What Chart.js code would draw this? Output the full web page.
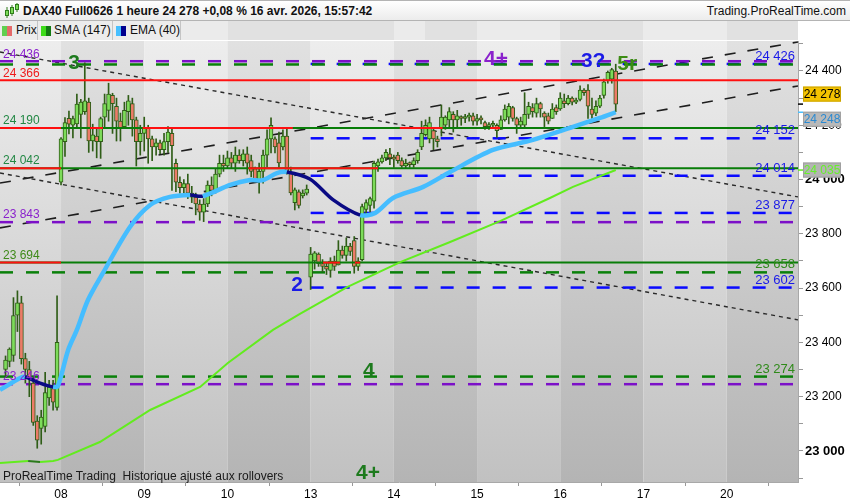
<!DOCTYPE html>
<html>
<head>
<meta charset="utf-8">
<script src="https://cdn.jsdelivr.net/npm/chart.js@4.4.1/dist/chart.umd.min.js"></script>
<style>
  body { margin:0; width:850px; height:500px; overflow:hidden; background:#fff; font-family:"Liberation Sans", Arial, sans-serif; position:relative; }
  #head { position:absolute; left:0; top:0; width:850px; height:21px; box-sizing:border-box; border-top:1px solid #b4b4b4; border-bottom:1px solid #b4b4b4; background:linear-gradient(#ffffff,#ececec); }
  #title { position:absolute; left:23px; top:3px; font-size:12px; font-weight:bold; color:#111; white-space:nowrap; }
  #site { position:absolute; right:4px; top:3px; font-size:12px; color:#111; }
  #tabs { position:absolute; left:0; top:21px; width:850px; height:19px;
    background:linear-gradient(90deg,#ebebeb 0 228px,#e1e1e1 228px 394px,#ebebeb 394px 425px,#e1e1e1 425px 477px,#ebebeb 477px 560px,#e1e1e1 560px 643px,#ebebeb 643px 727px,#e1e1e1 727px 798px,#fff 798px); }
  .tab { position:absolute; top:0; height:19px; box-sizing:border-box; border-right:1px solid #c4c4c4; background:#ececec; font-size:12px; line-height:19px; color:#111; }
  .ico { position:absolute; top:5px; width:10px; height:10px; }
  #chartbox { position:absolute; left:0; top:40px; width:850px; height:460px; }
  #note { position:absolute; left:3px; top:469px; font-size:12px; color:#1a1a1a; white-space:pre; }
</style>
</head>
<body>
<div id="head">
  <svg style="position:absolute;left:4px;top:2px" width="15" height="16">
    <line x1="3" y1="4" x2="3" y2="15" stroke="#2f7d1a"/><rect x="1.5" y="7.5" width="3" height="5" fill="#7ddc5a" stroke="#2f7d1a"/>
    <line x1="8" y1="2" x2="8" y2="13" stroke="#2f7d1a"/><rect x="6.5" y="4.5" width="3" height="6" fill="#7ddc5a" stroke="#2f7d1a"/>
    <line x1="13" y1="0" x2="13" y2="9" stroke="#2f7d1a"/><rect x="11.5" y="1.5" width="3" height="5" fill="#7ddc5a" stroke="#2f7d1a"/>
  </svg>
  <div id="title">DAX40 Full0626 1 heure 24 278 +0,08 % 16 avr. 2026, 15:57:42</div>
  <div id="site">Trading.ProRealTime.com</div>
</div>
<div id="tabs">
  <div class="tab" style="left:0;width:38px"><span class="ico" style="left:2px;background:linear-gradient(90deg,#5fcf4f 50%,#e56a6a 50%)"></span><span style="position:absolute;left:16px">Prix</span></div>
  <div class="tab" style="left:38px;width:75px"><span class="ico" style="left:3px;background:linear-gradient(90deg,#3ddc1a 50%,#137a13 50%)"></span><span style="position:absolute;left:16px">SMA (147)</span></div>
  <div class="tab" style="left:113px;width:68px"><span class="ico" style="left:3px;background:linear-gradient(90deg,#46bfff 50%,#00008f 50%)"></span><span style="position:absolute;left:17px">EMA (40)</span></div>
</div>
<div id="chartbox"><canvas id="graficoDax" width="850" height="460"></canvas></div>
<div id="note">ProRealTime Trading  Historique ajusté aux rollovers</div>

<script>
const dayLabels = ['08','09','10','13','14','15','16','17','20'];
const barsPerDay = 21;

const bars07 = [
  [23300,23350,23270,23335],[23330,23380,23310,23375],[23352,23565,23330,23499],[23500,23590,23440,23546],
  [23546,23570,23320,23340],[23340,23360,23250,23300],[23300,23330,23200,23270],[23250,23270,23094,23105],
  [23110,23130,23010,23040],[23083,23150,23025,23125],[23090,23290,23070,23215],[23195,23260,23168,23235],
  [23230,23260,23150,23180],[23160,23572,23150,23400]
];
const bars08 = [
  [23990,24155,23980,24150],[24140,24228,24085,24210],[24226,24252,24168,24204],[24200,24234,24153,24225],
  [24205,24315,24190,24278],[24240,24296,24153,24285],[24250,24430,24240,24290],[24285,24300,24100,24142],
  [24142,24204,24105,24165],[24160,24190,24080,24140],[24140,24230,24078,24225],[24230,24315,24190,24280],
  [24255,24355,24215,24315],[24310,24318,24170,24280],[24270,24300,24142,24215],[24215,24245,24142,24190],
  [24195,24285,24190,24255],[24250,24310,24200,24290],[24280,24300,24160,24220],[24220,24230,24050,24140],
  [24140,24200,24090,24170]
];
const bars09 = [
  [24170,24230,24105,24190],[24190,24200,24060,24150],[24150,24160,24070,24120],[24120,24150,24090,24135],
  [24135,24145,24095,24110],[24110,24170,24090,24140],[24140,24195,24100,24175],[24170,24190,23960,24125],
  [24060,24075,23955,23990],[23990,24010,23950,23970],[23970,24000,23945,23985],[23985,24020,23930,23950],
  [23950,23975,23915,23935],[23935,23950,23870,23910],[23910,23925,23850,23880],[23880,23930,23845,23910],
  [23910,23995,23900,23980],[23980,24010,23940,23960],[23960,24040,23950,24020],[24020,24090,24010,24060],
  [24060,24090,24030,24050]
];
const bars10 = [
  [24050,24105,24040,24080],[24080,24100,24040,24060],[24060,24120,24030,24090],[24090,24110,24060,24070],
  [24070,24110,24050,24095],[24095,24120,24020,24060],[24070,24090,24010,24030],[24040,24046,23991,24000],
  [24000,24061,23950,24030],[24030,24109,23987,24090],[24090,24183,24046,24150],[24150,24227,24098,24200],
  [24150,24157,24098,24120],[24135,24175,24043,24061],[24120,24183,24109,24160],[24160,24190,24020,24030],
  [24024,24046,23943,23951],[23915,23969,23888,23962],[23955,23962,23895,23905],[23940,23962,23932,23950],
  [23950,23980,23943,23965]
];
const bars13 = [
  [23640,23750,23595,23725],[23700,23735,23670,23730],[23725,23730,23680,23690],[23690,23705,23660,23680],
  [23680,23695,23650,23670],[23665,23712,23640,23700],[23700,23718,23665,23680],[23685,23775,23685,23740],
  [23740,23755,23710,23720],[23720,23785,23700,23755],[23755,23765,23720,23735],[23775,23790,23655,23680],
  [23680,23712,23665,23700],[23705,23910,23700,23900],[23890,23925,23870,23915],[23905,23935,23880,23930],
  [23920,24068,23895,24060],[24050,24075,24030,24065],[24065,24090,24060,24080],[24080,24110,24070,24100],
  [24095,24115,24055,24080]
];
const bars14 = [
  [24080,24090,24045,24075],[24090,24100,24060,24070],[24070,24080,24045,24050],[24050,24075,24040,24060],
  [24060,24065,24045,24055],[24055,24080,24045,24070],[24070,24110,24060,24100],[24120,24215,24110,24170],
  [24165,24220,24160,24200],[24150,24230,24135,24210],[24180,24185,24110,24150],[24150,24160,24120,24140],
  [24190,24275,24160,24230],[24200,24235,24185,24230],[24220,24265,24190,24250],[24240,24250,24175,24220],
  [24220,24255,24190,24235],[24230,24235,24200,24225],[24225,24240,24210,24230],[24230,24245,24215,24235],
  [24235,24245,24200,24215]
];
const bars15 = [
  [24215,24240,24200,24225],[24225,24235,24205,24220],[24210,24215,24185,24195],[24195,24210,24185,24200],
  [24200,24215,24190,24205],[24200,24205,24155,24180],[24185,24235,24185,24220],[24220,24275,24215,24260],
  [24230,24280,24205,24270],[24265,24270,24215,24225],[24225,24230,24170,24200],[24200,24230,24190,24215],
  [24200,24320,24190,24240],[24240,24285,24225,24270],[24265,24280,24230,24250],[24245,24300,24230,24280],
  [24280,24285,24230,24260],[24245,24250,24195,24230],[24235,24245,24205,24215],[24225,24280,24225,24260],
  [24265,24275,24240,24250]
];
const bars16 = [
  [24260,24320,24255,24300],[24290,24315,24265,24280],[24280,24310,24275,24300],[24300,24305,24275,24285],
  [24285,24300,24280,24290],[24295,24345,24290,24330],[24330,24335,24310,24320],[24330,24350,24225,24270],
  [24260,24300,24225,24240],[24245,24290,24235,24270],[24270,24310,24265,24300],[24310,24370,24300,24360],
  [24365,24400,24355,24395],[24370,24410,24355,24405],[24400,24425,24250,24278]
];

// moyennes mobiles (points relevés)
const smaX = [-15.4,-8.3,-5.3,-2.0,-0.8,9.8,22.5,35.1,42.1,53.5,60.3,72.2,85.6,98.2,110.8,123.4,129.2,140];
const smaY = [22956,22963,22959,22963,22967,23033,23151,23236,23324,23446,23505,23604,23696,23770,23847,23932,23973,24035];
const emaX = [-15.4,-10.3,-9.1,-5.3,-2.0,-0.8,1.8,4.0,6.8,10.6,17.4,22.5,27.5,32.6,35.8,42.7,47.7,51.0,54.5,57.0,62.8,68.7,75.5,79.3,83.8,91.4,98.2,109.0,119.1,129.2,136.0,140];
const emaY = [23225,23269,23273,23250,23236,23239,23372,23446,23556,23656,23825,23906,23936,23943,23939,23980,23998,23998,24024,24028,24002,23925,23869,23877,23932,23973,24028,24109,24146,24194,24227,24248];

// niveaux horizontaux
const purpleLevels = [24436, 23843, 23246];
const greenDashLevels = [24424, 23658, 23274];
const blueDashLevels = [24426, 24152, 24014, 23877, 23602];
const greenSolidLevels = [24190, 24042, 23694];
const redSegments = [[24366,-15.4,186],[24190,-15.4,0],[24190,7.3,10.6],[24190,20.6,58.5],[24190,85.5,96.3],[24190,108.3,110.8],
                     [24042,-15.4,0],[24042,47.3,80],[23694,-15.4,0],[23694,66.1,70.4],[23694,74.2,75.5]];
const blueStart = 63;

// lignes de tendance [x0, y0, x1, y1]
const trendShort = [[-15.4,24470,186,23936],[-15.4,24024,186,23483]];
const trendLong = [[-15.4,23987,186,24507],[-15.4,23822,186,24345]];

const leftLabels = [[24436,'#8a22cc'],[24366,'#ee1c1c'],[24190,'#228844'],[24042,'#228844'],[23843,'#8a22cc'],[23694,'#3f8a1a'],[23246,'#8a22cc']];
const rightLabels = [[24426,'#1a1ae8'],[24152,'#1a1ae8'],[24014,'#1a1ae8'],[23877,'#1a1ae8'],[23658,'#2f8a1a'],[23602,'#1a1ae8'],[23274,'#2f8a1a']];
const marks = [['3',3.3,24429,'#1d7a1d'],['4+',109.8,24444,'#8a22cc'],['3?',134.3,24437,'#1a1ae6'],['5r',142.9,24426,'#3c8c14'],
               ['2',59.6,23611,'#1a1ae6'],['4',77.7,23295,'#1d7a1d'],['4+',77.5,22919,'#1d7a1d']];

const xMin = -15.4, xMax = 186, yMin = 22885.6, yMax = 24510.5;

const candles = [];
bars07.forEach((b, i) => candles.push({x: i - bars07.length, b}));
[bars08, bars09, bars10, bars13, bars14, bars15, bars16].forEach((day, d) =>
  day.forEach((b, i) => candles.push({x: d * barsPerDay + i, b})));

const fmt = v => String(Math.round(v)).replace(/\B(?=(\d{3})+$)/g, ' ');
const wickColor = '#2f5d17';

function lineDs(points, color, width, dash, order) {
  return {type:'line', data: points.map(p => ({x:p[0], y:p[1]})), borderColor: color, borderWidth: width,
          borderDash: dash || [], pointRadius: 0, tension: 0, fill: false, order};
}

const datasets = [];
trendShort.forEach(t => datasets.push(lineDs([[t[0],t[1]],[t[2],t[3]]], '#2a2a2a', 1.4, [4,4], 10)));
trendLong.forEach(t => datasets.push(lineDs([[t[0],t[1]],[t[2],t[3]]], '#1e1e1e', 1.6, [11,12], 10)));
greenDashLevels.forEach(v => datasets.push(lineDs([[xMin,v],[xMax,v]], '#0a800a', 2.5, [13,13], 9)));
purpleLevels.forEach(v => datasets.push(lineDs([[xMin,v],[xMax,v]], '#7c10c8', 2.5, [13,13], 9)));
blueDashLevels.forEach(v => datasets.push(lineDs([[blueStart,v],[xMax,v]], '#0a0aff', 2.5, [13,13], 9)));

datasets.push({type:'bar', data: candles.map(c => ({x:c.x, y:[c.b[2], c.b[1]]})), backgroundColor: wickColor,
  barThickness: 1, grouped: false, order: 7});
datasets.push({type:'bar', data: candles.map(c => ({x:c.x, y:[c.b[0], c.b[3]]})),
  backgroundColor: ctx => { const b = candles[ctx.dataIndex].b; return b[3] >= b[0] ? '#7ddc5a' : '#ec7b68'; },
  borderColor: wickColor, borderWidth: 1, borderSkipped: false, barThickness: 4, minBarLength: 2, grouped: false, order: 6});

greenSolidLevels.forEach(v => datasets.push(lineDs([[xMin,v],[xMax,v]], '#087d08', 2, null, 5)));
redSegments.forEach(s => datasets.push(lineDs([[s[1],s[0]],[s[2],s[0]]], '#ff1010', 2, null, 4)));

datasets.push({type:'line', data: smaX.map((x,i) => ({x, y:smaY[i]})), borderColor:'#62ec1e', borderWidth:2,
  pointRadius:0, tension:0, fill:false, order:2,
  segment:{borderColor: c => c.p1.parsed.y < c.p0.parsed.y ? '#2b7a1b' : '#62ec1e'}});
datasets.push({type:'line', data: emaX.map((x,i) => ({x, y:emaY[i]})), borderColor:'#45bdff', borderWidth:4.5,
  pointRadius:0, tension:0.3, fill:false, order:1,
  segment:{borderColor: c => c.p1.parsed.y < c.p0.parsed.y ? '#0a0a84' : '#45bdff',
           borderWidth: c => c.p1.parsed.y < c.p0.parsed.y ? 3.5 : 4.5}});

const bandsPlugin = {
  id: 'bands',
  beforeDraw(chart) {
    const {ctx, chartArea: a, scales: {x}} = chart;
    ctx.save();
    for (let d = -1; d < dayLabels.length; d++) {
      const l = Math.max(a.left, x.getPixelForValue(d * barsPerDay));
      const r = Math.min(a.right, x.getPixelForValue((d + 1) * barsPerDay));
      if (r <= l) continue;
      const light = d % 2 !== 0;
      const g = ctx.createLinearGradient(0, a.top, 0, a.bottom);
      g.addColorStop(0, light ? '#ededed' : '#e1e1e1');
      g.addColorStop(1, light ? '#c1c1c1' : '#b4b4b4');
      ctx.fillStyle = g;
      ctx.fillRect(l, a.top, r - l, a.bottom - a.top);
    }
    ctx.restore();
  }
};

const textPlugin = {
  id: 'texts',
  afterDatasetsDraw(chart) {
    const {ctx, chartArea: a, scales: {x, y}} = chart;
    ctx.save();
    ctx.beginPath(); ctx.rect(a.left, a.top, a.right - a.left, a.bottom - a.top); ctx.clip();
    ctx.font = '12px "Liberation Sans", Arial, sans-serif';
    ctx.textBaseline = 'bottom';
    ctx.textAlign = 'left';
    leftLabels.forEach(([v, c]) => { ctx.fillStyle = c; ctx.fillText(fmt(v), 3, y.getPixelForValue(v) - 1); });
    ctx.font = '13px "Liberation Sans", Arial, sans-serif';
    ctx.textAlign = 'right';
    rightLabels.forEach(([v, c]) => { ctx.fillStyle = c; ctx.fillText(fmt(v), a.right - 3, y.getPixelForValue(v) - 1); });
    ctx.font = 'bold 21px "Liberation Sans", Arial, sans-serif';
    ctx.textAlign = 'center'; ctx.textBaseline = 'middle';
    marks.forEach(([t, mx, my, c]) => { ctx.fillStyle = c; ctx.fillText(t, x.getPixelForValue(mx), y.getPixelForValue(my)); });
    ctx.restore();
  },
  afterDraw(chart) {
    const {ctx, chartArea: a, scales: {y}} = chart;
    const last = candles[candles.length - 1].b[3];
    const tags = [
      [last, '#f4c300', '#c9a200', '#000', -10, '#000'],
      [emaY[emaY.length - 1], '#b9b9b9', '#a2a2a2', '#2a8ad2', 7, '#4cc0ff'],
      [smaY[smaY.length - 1], '#b4b4b4', '#a0a0a0', '#66f02a', 0, '#62ec1e']
    ];
    ctx.save();
    ctx.font = '12px "Liberation Sans", Arial, sans-serif';
    ctx.textAlign = 'center'; ctx.textBaseline = 'middle';
    tags.forEach(([v, bg, bd, fg, dy, tk]) => {
      const py = y.getPixelForValue(v);
      ctx.strokeStyle = tk; ctx.lineWidth = 1.5;
      ctx.beginPath(); ctx.moveTo(a.right, py); ctx.lineTo(a.right + 5, py); ctx.stroke();
      const cy = py + dy;
      ctx.fillStyle = bg; ctx.fillRect(a.right + 5, cy - 7.5, 38, 15);
      ctx.strokeStyle = bd; ctx.lineWidth = 1; ctx.strokeRect(a.right + 5.5, cy - 7, 37, 14);
      ctx.fillStyle = fg; ctx.fillText(fmt(v), a.right + 24, cy + 0.5);
    });
    ctx.restore();
  }
};

Chart.defaults.font.family = '"Liberation Sans", Arial, sans-serif';
new Chart(document.getElementById('graficoDax').getContext('2d'), {
  type: 'bar',
  data: {datasets},
  options: {
    responsive: false, animation: false, events: [],
    layout: {padding: {top: 1, left: 0, right: 0, bottom: 0}},
    plugins: {legend: {display: false}, tooltip: {enabled: false}},
    scales: {
      x: {type: 'linear', min: xMin, max: xMax, offset: false,
          afterBuildTicks: s => { s.ticks = dayLabels.map((l, i) => ({value: i * barsPerDay})); },
          afterFit: s => { s.height = 18; s.paddingLeft = 0; s.paddingRight = 0; },
          ticks: {callback: v => dayLabels[Math.round(v / barsPerDay)], color: '#000', font: {size: 12}, maxRotation: 0, autoSkip: false, padding: 1},
          grid: {drawOnChartArea: false, tickLength: 4, color: '#999'},
          border: {color: '#a8a8a8'}},
      y: {position: 'right', min: yMin, max: yMax,
          afterBuildTicks: s => { const t = []; for (let v = 22900; v <= 24500; v += 100) t.push({value: v}); s.ticks = t; },
          afterFit: s => { s.width = 52; s.paddingTop = 0; s.paddingBottom = 0; },
          ticks: {callback: v => v % 200 === 0 ? fmt(v) : '', color: '#000', padding: 2,
                  font: c => (c.tick && c.tick.value % 1000 === 0) ? {size: 13, weight: 'bold'} : {size: 12}},
          grid: {drawOnChartArea: false, tickLength: 5, color: '#999'},
          border: {color: '#a8a8a8'}}
    }
  },
  plugins: [bandsPlugin, textPlugin]
});
</script>
</body>
</html>
